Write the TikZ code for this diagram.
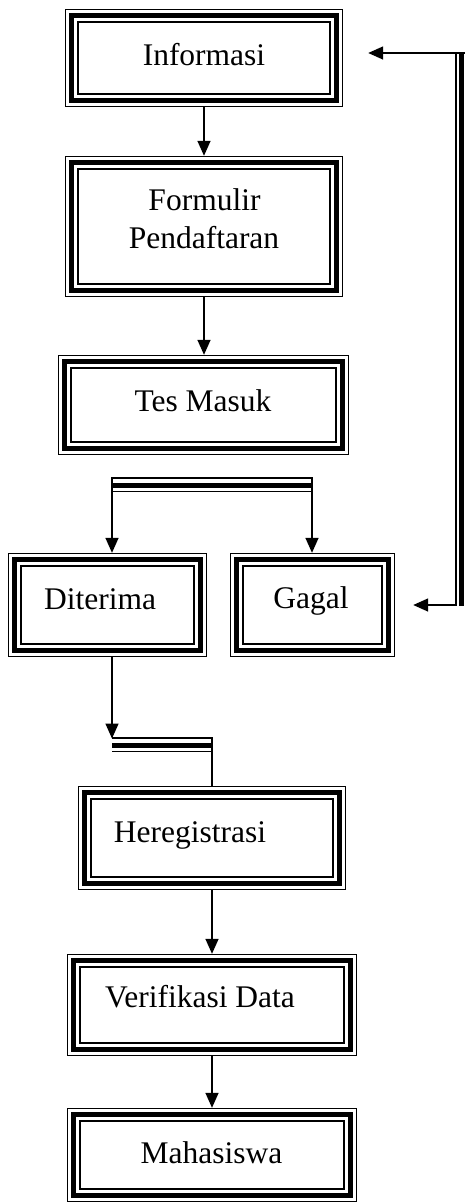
\documentclass[tikz,border=0pt]{standalone}
\usepackage{fontspec}
\setmainfont{Liberation Serif}
\usetikzlibrary{calc,arrows.meta}

% three-line frame (thin - thick - thin) drawn inside a box node
\newcommand\tripleframe[1]{%
  \draw[line width=1.5pt] ($(#1.north west)+(0.75,0.75)$) rectangle ($(#1.south east)+(-0.75,-0.75)$);
  \draw[line width=5pt]   ($(#1.north west)+(6.5,6.5)$)   rectangle ($(#1.south east)+(-6.5,-6.5)$);
  \draw[line width=1.5pt] ($(#1.north west)+(13,13)$)     rectangle ($(#1.south east)+(-13,-13)$);}

% three-line horizontal bar between two coordinates (its top edge on the coordinates' row)
\newcommand\triplebar[2]{%
  \draw[line width=1.5pt] ($(#1)+(0,0.75)$) -- ($(#2)+(0,0.75)$);
  \draw[line width=5pt]   ($(#1)+(0,8)$)    -- ($(#2)+(0,8)$);
  \draw[line width=1.5pt] ($(#1)+(0,14.5)$) -- ($(#2)+(0,14.5)$);}

\begin{document}
\begin{tikzpicture}[x=1pt,y=-1pt,
  box/.style={rectangle,draw=none,inner sep=0pt,minimum width=#1},
  lbl/.style={inner sep=0pt,font=\fontsize{31.5}{37.5}\selectfont},
  arr/.style={line width=1.5pt,-{Triangle[length=15pt,width=13pt]}},
  conn/.style={line width=1.5pt}]

  \fill[white] (0,0) rectangle (465,1202);
  \useasboundingbox (0,0) rectangle (465,1202);

  % boxes
  \node[box=278pt,minimum height=98pt]  (info) at (204,58)    {};
  \node[box=278pt,minimum height=141pt] (form) at (204,226.5) {};
  \node[box=291pt,minimum height=100pt] (tes)  at (203.5,405) {};
  \node[box=199pt,minimum height=104pt] (dit)  at (107.5,605) {};
  \node[box=165pt,minimum height=104pt] (gag)  at (312.5,605) {};
  \node[box=268pt,minimum height=104pt] (her)  at (212,838)   {};
  \node[box=290pt,minimum height=102pt] (ver)  at (212,1005)  {};
  \node[box=290pt,minimum height=94pt]  (mah)  at (212,1155)  {};

  \foreach \n in {info,form,tes,dit,gag,her,ver,mah} {\tripleframe{\n}}

  % labels
  \node[lbl,anchor=base] (tinfo) at (204,65)   {Informasi};
  \node[lbl,anchor=base] (tform1) at (204.5,210) {Formulir};
  \node[lbl,anchor=base] (tform2) at (204,248) {Pendaftaran};
  \node[lbl,anchor=base] (ttes)  at (203,411)  {Tes Masuk};
  \node[lbl,anchor=base] (tdit)  at (100,609)  {Diterima};
  \node[lbl,anchor=base] (tgag)  at (311,608)  {Gagal};
  \node[lbl,anchor=base] (ther)  at (190,842)  {Heregistrasi};
  \node[lbl,anchor=base] (tver)  at (200,1007) {Verifikasi Data};
  \node[lbl,anchor=base] (tmah)  at (211.5,1163) {Mahasiswa};

  % straight arrows
  \draw[arr] (info.south) -- (form.north);
  \draw[arr] (form.south) -- (form.south |- tes.north);
  \draw[arr] (her.south) -- (ver.north);
  \draw[arr] (ver.south) -- (mah.north);

  % split bar above Diterima / Gagal
  \coordinate (splitL) at (112,477);
  \coordinate (splitR) at (312,477);
  \triplebar{splitL}{splitR}
  \draw[arr] (splitL) -- (splitL |- dit.north);
  \draw[arr] (splitR) -- (splitR |- gag.north);

  % merge bar below Diterima
  \coordinate (mergeL) at (112,737);
  \coordinate (mergeR) at (212,737);
  \triplebar{mergeL}{mergeR}
  \draw[arr] (mergeL |- dit.south) -- ([yshift=-1.5pt]mergeL);
  \draw[conn] (mergeR) -- (mergeR |- her.north);

  % feedback line from Gagal back to Informasi
  \coordinate (fbTop) at (465,53);
  \coordinate (fbBot) at (455,605);
  \draw[line width=1.5pt] (455.75,53) -- (455.75,605.75);
  \draw[line width=5pt]   (461.5,52.25) -- (461.5,605.75);
  \draw[arr,shorten >=18pt] (fbBot) -- (gag.east |- fbBot);
  \draw[arr,shorten >=25pt] (fbTop) -- (info.east |- fbTop);
\end{tikzpicture}
\end{document}
